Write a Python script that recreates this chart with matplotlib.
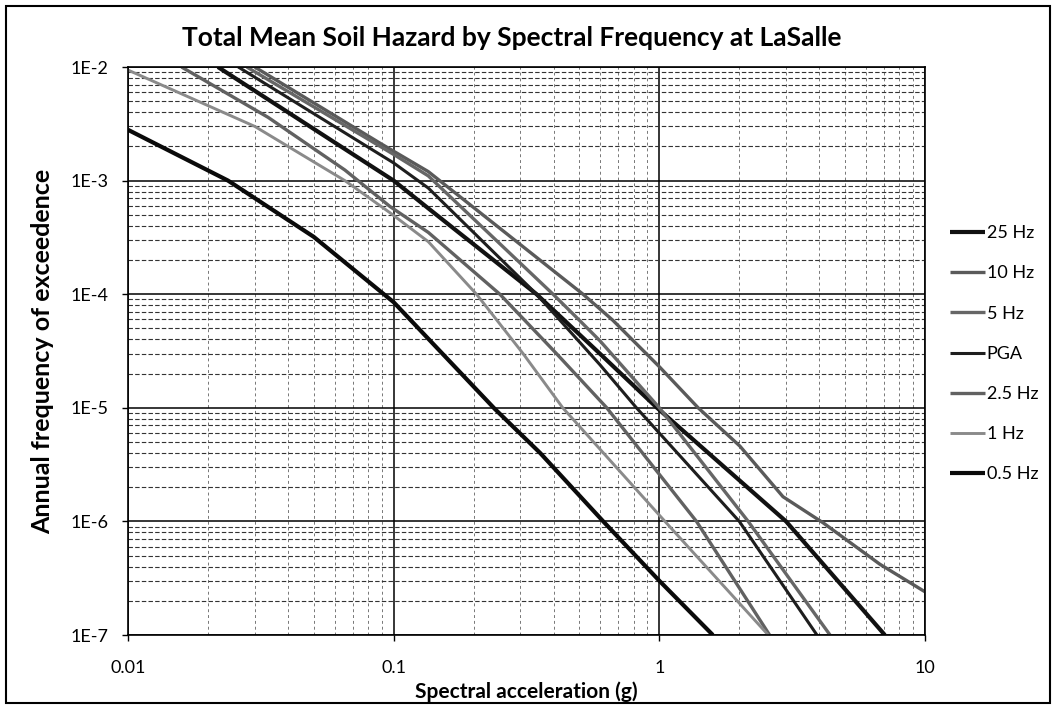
import numpy as np
import matplotlib
matplotlib.use("Agg")
import matplotlib.pyplot as plt
from matplotlib.ticker import FixedLocator, FuncFormatter, NullFormatter, LogLocator
from matplotlib.patches import Rectangle

plt.rcParams['font.family'] = ['Lato', 'DejaVu Sans']

# hazard curves: spectral acceleration (g) vs annual frequency
x_25 = [0.0218, 0.1, 0.135, 0.345, 0.597, 0.98, 3.0, 7.06]
y_25 = [1e-2, 1.0e-3, 5.7e-4, 1.0e-4, 3.0e-5, 1.0e-5, 1.0e-6, 1.0e-7]

x_10 = [0.030, 0.089, 0.135, 0.516, 0.668, 1.0, 1.4, 2.01, 2.92, 4.14, 6.76, 10.0]
y_10 = [1e-2, 2.13e-3, 1.2e-3, 1.0e-4, 5.9e-5, 2.3e-5, 1.0e-5, 4.6e-6, 1.65e-6, 9.7e-7, 4.2e-7, 2.4e-7]

x_5 = [0.028, 0.1, 0.135, 0.398, 0.5, 0.597, 1.0, 2.16, 4.39]
y_5 = [1e-2, 1.7e-3, 1.1e-3, 1.0e-4, 5.9e-5, 3.9e-5, 1.0e-5, 1.0e-6, 1.0e-7]

x_pga = [0.026, 0.1, 0.135, 0.345, 0.597, 0.82, 2.0, 3.92]
y_pga = [1e-2, 1.43e-3, 8.6e-4, 1.0e-4, 2.4e-5, 1.0e-5, 1.0e-6, 1.0e-7]

x_2p5 = [0.0159, 0.0337, 0.0655, 0.097, 0.135, 0.251, 0.41, 0.634, 1.38, 2.6]
y_2p5 = [1e-2, 3.6e-3, 1.24e-3, 5.9e-4, 3.5e-4, 1.0e-4, 3.0e-5, 1.0e-5, 1.0e-6, 1.0e-7]

x_1 = [0.01, 0.03, 0.0655, 0.097, 0.135, 0.205, 0.307, 0.433, 1.05, 2.57]
y_1 = [9.4e-3, 3.0e-3, 1.0e-3, 5.2e-4, 2.9e-4, 1.0e-4, 3.0e-5, 1.0e-5, 1.0e-6, 1.0e-7]

x_05 = [0.01, 0.0238, 0.05, 0.0617, 0.1, 0.24, 0.356, 0.615, 1.0, 1.59]
y_05 = [2.8e-3, 1.0e-3, 3.2e-4, 2.14e-4, 8.5e-5, 9.8e-6, 4.0e-6, 1.0e-6, 3.0e-7, 1.0e-7]

labels = ["25 Hz", "10 Hz", "5 Hz", "PGA", "2.5 Hz", "1 Hz", "0.5 Hz"]
xs = [x_25, x_10, x_5, x_pga, x_2p5, x_1, x_05]
ys = [y_25, y_10, y_5, y_pga, y_2p5, y_1, y_05]
colors = ["#111111", "#5a5a5a", "#666666", "#1e1e1e", "#616161", "#8a8a8a", "#0a0a0a"]
widths = [3.0, 2.4, 2.4, 2.2, 2.4, 2.1, 3.0]

fig = plt.figure(figsize=(10.58, 7.08), dpi=100)
ax = fig.add_axes([128/1058, 1-635/708, (925-128)/1058, (635-67)/708])

for x, y, lab, c, w in zip(xs, ys, labels, colors, widths):
    ax.plot(x, y, color=c, lw=w, label=lab, solid_capstyle='butt')

ax.set_xscale('log')
ax.set_yscale('log')
ax.set_xlim(0.01, 10)
ax.set_ylim(1e-7, 1e-2)

xtick_text = {0.01: "0.01", 0.1: "0.1", 1: "1", 10: "10"}
ax.xaxis.set_major_locator(FixedLocator([0.01, 0.1, 1, 10]))
ax.xaxis.set_major_formatter(FuncFormatter(lambda v, p: xtick_text.get(round(v, 2), "")))
ax.xaxis.set_minor_locator(LogLocator(base=10, subs=np.arange(2, 10)))
ax.xaxis.set_minor_formatter(NullFormatter())
ax.yaxis.set_major_locator(FixedLocator([1e-7, 1e-6, 1e-5, 1e-4, 1e-3, 1e-2]))
ax.yaxis.set_major_formatter(FuncFormatter(lambda v, p: "1E%d" % round(np.log10(v))))
ax.yaxis.set_minor_locator(LogLocator(base=10, subs=np.arange(2, 10)))
ax.yaxis.set_minor_formatter(NullFormatter())

ax.grid(which='major', axis='both', color='black', lw=1.1)
ax.grid(which='minor', axis='y', color='#333333', lw=0.8, ls=(0, (4, 2)))
ax.grid(which='minor', axis='x', color='#777777', lw=0.7, ls=(0, (3, 3)))
ax.set_axisbelow(True)

ax.tick_params(which='major', direction='out', length=4, width=1, labelsize=13, color='black')
ax.tick_params(axis='y', which='major', pad=10)
ax.tick_params(axis='x', which='major', pad=14)
ax.tick_params(which='minor', length=0)
for s in ax.spines.values():
    s.set_color('black')
    s.set_linewidth(1.2)

ax.set_xlabel("Spectral acceleration (g)", fontsize=15, fontweight='bold', labelpad=4)
ax.set_ylabel("Annual frequency of exceedence", fontsize=18, fontweight='bold', labelpad=12)
fig.text(512/1058, 1-38/708, "Total Mean Soil Hazard by Spectral Frequency at LaSalle",
         fontsize=19, fontweight='bold', ha='center', va='center')

ax.legend(loc='center left', bbox_to_anchor=(1.022, 0.495), frameon=False, fontsize=13,
          handlelength=1.95, handletextpad=0.1, labelspacing=1.34, borderaxespad=0)

fig.patches.append(Rectangle((6/1058, 5/708), 1044/1058, 697/708, transform=fig.transFigure,
                             fill=False, edgecolor='black', lw=1.5))

fig.savefig("out.png", dpi=100)
